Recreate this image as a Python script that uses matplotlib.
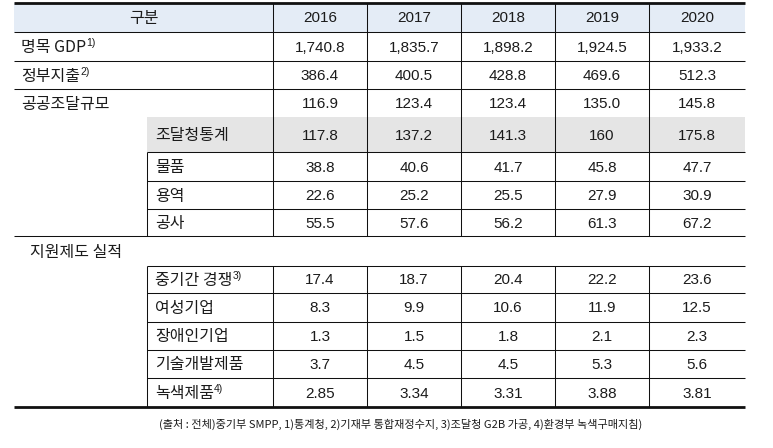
import matplotlib
matplotlib.use("Agg")
import matplotlib.pyplot as plt

plt.rcParams['font.family'] = ['Noto Sans CJK KR', 'DejaVu Sans']

header_label = "구분"
years = ["2016", "2017", "2018", "2019", "2020"]

gdp = ["1,740.8", "1,835.7", "1,898.2", "1,924.5", "1,933.2"]
gov_spend = ["386.4", "400.5", "428.8", "469.6", "512.3"]
public_proc = ["116.9", "123.4", "123.4", "135.0", "145.8"]
pps_total = ["117.8", "137.2", "141.3", "160", "175.8"]
goods = ["38.8", "40.6", "41.7", "45.8", "47.7"]
services = ["22.6", "25.2", "25.5", "27.9", "30.9"]
construction = ["55.5", "57.6", "56.2", "61.3", "67.2"]
sme_comp = ["17.4", "18.7", "20.4", "22.2", "23.6"]
women_biz = ["8.3", "9.9", "10.6", "11.9", "12.5"]
disabled_biz = ["1.3", "1.5", "1.8", "2.1", "2.3"]
tech_prod = ["3.7", "4.5", "4.5", "5.3", "5.6"]
green_prod = ["2.85", "3.34", "3.31", "3.88", "3.81"]

source_note = "(출처 : 전체)중기부 SMPP, 1)통계청, 2)기재부 통합재정수지, 3)조달청 G2B 가공, 4)환경부 녹색구매지침)"

# (label, superscript, level, values)
rows = [
    ("명목 GDP", "1)", 0, gdp),
    ("정부지출", "2)", 0, gov_spend),
    ("공공조달규모", "", 0, public_proc),
    ("조달청통계", "", 1, pps_total),
    ("물품", "", 1, goods),
    ("용역", "", 1, services),
    ("공사", "", 1, construction),
    ("지원제도 실적", "", 2, None),
    ("중기간 경쟁", "3)", 1, sme_comp),
    ("여성기업", "", 1, women_biz),
    ("장애인기업", "", 1, disabled_biz),
    ("기술개발제품", "", 1, tech_prod),
    ("녹색제품", "4)", 1, green_prod),
]

W, H = 773, 448
fig = plt.figure(figsize=(W / 100, H / 100), dpi=100)
ax = fig.add_axes([0, 0, 1, 1])
ax.set_xlim(0, W)
ax.set_ylim(H, 0)
ax.axis('off')

xL, xR = 14, 745
x_sub = 147
col_x = [273, 367, 461, 555, 649, 745]
row_y = [3, 32, 61, 89, 117, 152, 181, 209, 236, 266, 293, 322, 350, 378, 407]

thin = 0.75
thick = 2.0
lc = '#111111'
tc = '#1b1b1b'
fs_k = 11.5
fs_n = 11
num_font = ['Liberation Sans', 'Noto Sans CJK KR']
lab_font = ['Noto Sans CJK KR', 'Liberation Sans']

# backgrounds
ax.add_patch(plt.Rectangle((xL, row_y[0]), xR - xL, row_y[1] - row_y[0],
                           facecolor='#e4ecf6', edgecolor='none', zorder=0))
ax.add_patch(plt.Rectangle((x_sub, row_y[4]), xR - x_sub, row_y[5] - row_y[4],
                           facecolor='#e5e5e5', edgecolor='none', zorder=0))

# header text
ax.text((xL + col_x[0]) / 2, (row_y[0] + row_y[1]) / 2 + 1, header_label,
        ha='center', va='center', fontsize=fs_k, color=tc, family=lab_font)
for j, yr in enumerate(years):
    ax.text((col_x[j] + col_x[j + 1]) / 2, (row_y[0] + row_y[1]) / 2 + 1, yr,
            ha='center', va='center', fontsize=fs_n, color=tc, family=num_font)

# body
for i, (label, sup, level, vals) in enumerate(rows):
    y0, y1 = row_y[i + 1], row_y[i + 2]
    yc = (y0 + y1) / 2 + 1
    if level == 0:
        lx = 21
    elif level == 1:
        lx = x_sub + 8
    else:
        lx = 30
    t = ax.text(lx, yc, label, ha='left', va='center', fontsize=fs_k, color=tc,
                family=lab_font)
    if sup:
        ax.annotate(sup, xy=(1.0, 0.45), xycoords=t, ha='left', va='bottom',
                    fontsize=7.5, color=tc, family=num_font)
    if vals is not None:
        for j, v in enumerate(vals):
            ax.text((col_x[j] + col_x[j + 1]) / 2, yc, v, ha='center', va='center',
                    fontsize=fs_n, color=tc, family=num_font)

# horizontal lines
ax.plot([xL, xR], [row_y[0]] * 2, color=lc, lw=thick, solid_capstyle='butt')
for yy in [row_y[1], row_y[2], row_y[3], row_y[8]]:
    ax.plot([xL, xR], [yy, yy], color=lc, lw=thin, solid_capstyle='butt')
for yy in [row_y[5], row_y[6], row_y[7], row_y[9], row_y[10], row_y[11], row_y[12], row_y[13]]:
    ax.plot([x_sub, xR], [yy, yy], color=lc, lw=thin, solid_capstyle='butt')
ax.plot([xL, xR], [row_y[14]] * 2, color=lc, lw=thick, solid_capstyle='butt')

# vertical lines
for xx in col_x[:-1]:
    ax.plot([xx, xx], [row_y[0], row_y[8]], color=lc, lw=thin, solid_capstyle='butt')
    ax.plot([xx, xx], [row_y[9], row_y[14]], color=lc, lw=thin, solid_capstyle='butt')
ax.plot([x_sub, x_sub], [row_y[5], row_y[8]], color=lc, lw=thin, solid_capstyle='butt')
ax.plot([x_sub, x_sub], [row_y[9], row_y[14]], color=lc, lw=thin, solid_capstyle='butt')

# source note
ax.text(401, 424, source_note, ha='center', va='center', fontsize=8.0, color=tc,
        family=lab_font)

fig.savefig("out.png", dpi=100)
